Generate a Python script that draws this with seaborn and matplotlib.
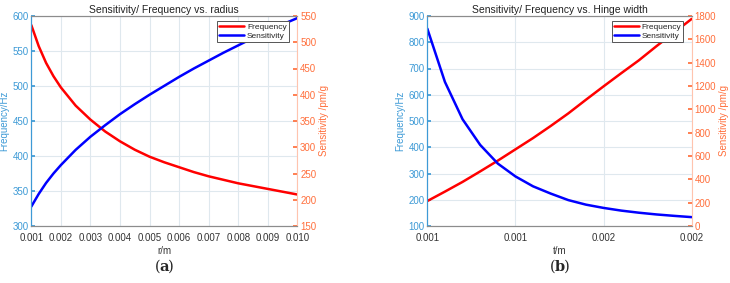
import numpy as np
import pandas as pd
import matplotlib
matplotlib.use("Agg")
import matplotlib.pyplot as plt
import seaborn as sns
from matplotlib.ticker import FormatStrFormatter

# ---------- data: panel (a) ----------
radius = [0.001, 0.00125, 0.0015, 0.00175, 0.002, 0.0025, 0.003, 0.0035, 0.004, 0.0045,
          0.005, 0.0055, 0.006, 0.0065, 0.007, 0.0075, 0.008, 0.0085, 0.009, 0.0095, 0.010]
freq_a = [587, 557, 533, 514, 498, 472, 452, 435, 421, 409,
          399, 391, 384, 377, 371, 366, 361, 357, 353, 349, 345]
sens_a = [187, 211, 232, 250, 266, 295, 320, 342, 363, 382,
          400, 417, 434, 450, 465, 480, 494, 508, 521, 534, 546]

# ---------- data: panel (b) ----------
hinge = [0.0008, 0.00088, 0.00096, 0.00104, 0.00112, 0.0012, 0.00128, 0.00136,
         0.00144, 0.00152, 0.0016, 0.00168, 0.00176, 0.00184, 0.00192, 0.002]
freq_b = [195, 231, 268, 308, 349, 392, 435, 481, 529, 581, 632, 682, 731, 785, 837, 889]
sens_b = [1692, 1235, 915, 695, 535, 425, 340, 278, 222, 183, 155, 132, 114, 99, 87, 76]

titles = ["Sensitivity/ Frequency vs. radius", "Sensitivity/ Frequency vs. Hinge width"]
xlabels = ["r/m", "t/m"]
captions = ["a", "b"]

sns.set_theme(style="white")
plt.rcParams['font.family'] = ['Liberation Sans', 'DejaVu Sans']

BLUE_AX = "#3d9ad6"
ORANGE_AX = "#ff6f3c"
ORANGE_SPINE = "#ffc4ae"
GRID = "#dfe8ee"
SPINE = "#8c8c8c"

fig = plt.figure(figsize=(7.3, 2.83), dpi=100)
W, H = 730, 283

def make_axes(x0, x1, y0, y1):
    return fig.add_axes([x0 / W, 1 - y1 / H, (x1 - x0) / W, (y1 - y0) / H])

panels = [
    dict(ax=make_axes(31.3, 297.3, 16, 226), x=radius, f=freq_a, s=sens_a,
         xlim=(0.001, 0.010), xticks=np.arange(1, 11) / 1000,
         ylim=(300, 600), yticks=np.arange(300, 601, 50),
         y2lim=(150, 550), y2ticks=np.arange(150, 551, 50)),
    dict(ax=make_axes(427.3, 691.7, 16, 226), x=hinge, f=freq_b, s=sens_b,
         xlim=(0.0008, 0.002), xticks=[0.0008, 0.0012, 0.0016, 0.002],
         ylim=(100, 900), yticks=np.arange(100, 901, 100),
         y2lim=(0, 1800), y2ticks=np.arange(0, 1801, 200)),
]

for i, p in enumerate(panels):
    ax = p["ax"]
    df = pd.DataFrame({"x": p["x"], "f": p["f"], "s": p["s"]})
    ax2 = ax.twinx()
    sns.lineplot(data=df, x="x", y="f", ax=ax, color="#ff0000", lw=1.8, label="Frequency", legend=False)
    sns.lineplot(data=df, x="x", y="s", ax=ax2, color="#0000ff", lw=1.8, label="Sensitivity", legend=False)
    ax.set_xlim(*p["xlim"])
    ax.set_ylim(*p["ylim"])
    ax2.set_ylim(*p["y2lim"])
    ax.set_xticks(p["xticks"])
    ax.set_yticks(p["yticks"])
    ax2.set_yticks(p["y2ticks"])
    ax.xaxis.set_major_formatter(FormatStrFormatter("%.3f"))
    ax.grid(True, color=GRID, lw=0.8)
    ax.set_axisbelow(True)
    ax.set_title(titles[i], fontsize=7.5, pad=2, color="#222222")
    ax.set_xlabel(xlabels[i], fontsize=7, color="#333333", labelpad=2)
    ax.set_ylabel("Frequency/Hz", fontsize=7, color=BLUE_AX, labelpad=2)
    ax2.set_ylabel("Sensitivity /pm/g", fontsize=7, color=ORANGE_AX, labelpad=2)
    ax.tick_params(axis="x", labelsize=7, colors="#333333", direction="in", length=3, pad=5)
    ax.tick_params(axis="y", labelsize=7, colors=BLUE_AX, direction="in", length=3, pad=2)
    ax2.tick_params(axis="y", labelsize=7, colors=ORANGE_AX, direction="in", length=3, pad=2)
    for a in (ax, ax2):
        for sp in a.spines.values():
            sp.set_linewidth(0.8)
            sp.set_color(SPINE)
    ax2.spines["left"].set_color(BLUE_AX)
    ax.spines["left"].set_color(BLUE_AX)
    ax2.spines["right"].set_color(ORANGE_SPINE)
    ax.spines["right"].set_visible(False)
    h1, l1 = ax.get_legend_handles_labels()
    h2, l2 = ax2.get_legend_handles_labels()
    leg = ax2.legend(h1 + h2, l1 + l2, loc="upper right", fontsize=6, frameon=True,
                     fancybox=False, edgecolor="#555555", framealpha=1,
                     borderpad=0.25, handlelength=3.0, handletextpad=0.3,
                     labelspacing=0.15, borderaxespad=0,
                     bbox_to_anchor=(0.968, 0.975))
    leg.get_frame().set_linewidth(0.7)
    cx = (ax.get_position().x0 + ax.get_position().x1) / 2
    fig.text(cx - 0.0095, 1 - 267 / H, "(", fontsize=10.5, family="DejaVu Serif", ha="center", va="center")
    fig.text(cx, 1 - 267 / H, captions[i], fontsize=10.5, family="DejaVu Serif", weight="bold", ha="center", va="center")
    fig.text(cx + 0.0095, 1 - 267 / H, ")", fontsize=10.5, family="DejaVu Serif", ha="center", va="center")

fig.savefig("out.png", dpi=100)
